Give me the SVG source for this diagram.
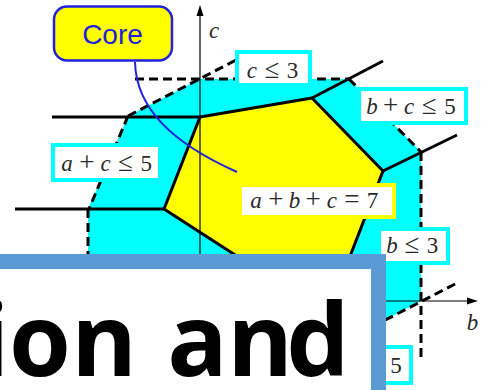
<svg xmlns="http://www.w3.org/2000/svg" width="488" height="390" viewBox="0 0 488 390">
<style>
.dash{fill:none;stroke:#000;stroke-width:3;stroke-dasharray:9 5}
.solid{fill:none;stroke:#000;stroke-width:3;stroke-linejoin:round}
.axis{fill:none;stroke:#000;stroke-width:1.2}
.lbl{fill:#fff;stroke:#00ffff;stroke-width:4}
.m{font-family:"Liberation Serif","DejaVu Serif",serif;font-size:23px;fill:#2a2a2a;text-anchor:middle}
.i{font-style:italic}
.o{font-size:27px}
.big{font-family:"Open Sans","Noto Sans",sans-serif;font-weight:bold;font-size:100px;fill:#000;text-anchor:middle}
</style>
<rect width="488" height="390" fill="#fff"/>
<g id="regions">
<polygon id="cyan-region" points="88,400 88,209 128,116 200,79 349,79 421,152 421,301 385,320 300,400" fill="#00ffff"/>
<polygon id="core-region" points="200,117 312,98 383,171 337,290 280,284 164,209" fill="#ffff00"/>
</g>
<g id="connectors">
<line class="dash" x1="135" y1="79" x2="349" y2="79"/>
<line class="dash" x1="128" y1="116" x2="240" y2="58"/>
<line class="dash" x1="128" y1="116" x2="89" y2="209"/>
<line class="dash" x1="88" y1="209" x2="88" y2="300"/>
<line class="dash" x1="349" y1="79" x2="421" y2="152"/>
<line class="dash" x1="421" y1="152" x2="421" y2="358"/>
<line class="dash" x1="360" y1="333" x2="457" y2="283"/>
<polygon class="solid" points="200,117 312,98 383,171 337,290 280,284 164,209"/>
<line class="solid" x1="200" y1="117" x2="52" y2="117"/>
<line class="solid" x1="164" y1="209" x2="15" y2="209"/>
<line class="solid" x1="312" y1="98" x2="383" y2="61"/>
<line class="solid" x1="383" y1="171" x2="457" y2="135"/>
<line class="axis" x1="200" y1="14" x2="200" y2="320"/>
<polygon points="200,5 196.5,16 203.5,16" fill="#000"/>
<line class="axis" x1="200" y1="301" x2="469" y2="301"/>
<polygon points="478,301 467,297.5 467,304.5" fill="#000"/>
<path d="M135,62 C136,108 172,143 237,172" fill="none" stroke="#2222dd" stroke-width="2"/>
</g>
<g id="axis-labels">
<text class="m i" x="214" y="38">c</text>
<text class="m i" x="472.5" y="330">b</text>
</g>
<g id="label-c3">
<rect class="lbl" x="237" y="52" width="73" height="33"/>
<text class="m" y="78"><tspan class="i" x="251.9">c</tspan><tspan class="o" x="271.9">≤</tspan><tspan x="292.6">3</tspan></text>
</g>
<g id="label-bc5">
<rect class="lbl" x="359" y="89" width="107" height="34"/>
<text class="m" y="114"><tspan class="i" x="371.9">b</tspan><tspan class="o" x="390.5">+</tspan><tspan class="i" x="409.2">c</tspan><tspan class="o" x="429.2">≤</tspan><tspan x="449.9">5</tspan></text>
</g>
<g id="label-ac5">
<rect class="lbl" x="53" y="145" width="107" height="35"/>
<text class="m" y="170.5"><tspan class="i" x="67">a</tspan><tspan class="o" x="86.8">+</tspan><tspan class="i" x="105.5">c</tspan><tspan class="o" x="125.4">≤</tspan><tspan x="146.2">5</tspan></text>
</g>
<g id="label-abc7">
<rect x="240" y="185" width="154" height="32" fill="#fff" stroke="#ffff00" stroke-width="4"/>
<text class="m" y="207.5"><tspan class="i" x="256">a</tspan><tspan class="o" x="275.8">+</tspan><tspan class="i" x="294.4">b</tspan><tspan class="o" x="313.1">+</tspan><tspan class="i" x="331.8">c</tspan><tspan class="o" x="351.8">=</tspan><tspan x="372.5">7</tspan></text>
</g>
<g id="label-b3">
<rect class="lbl" x="379" y="229" width="69" height="34"/>
<text class="m" y="252.5"><tspan class="i" x="391.9">b</tspan><tspan class="o" x="411.8">≤</tspan><tspan x="432.5">3</tspan></text>
</g>
<g id="label-5">
<rect class="lbl" x="300" y="347" width="111" height="36"/>
<text class="m" x="396" y="372.5">5</text>
</g>
<g id="core-callout">
<rect x="54" y="6.5" width="118" height="54" rx="13" fill="#ffff00" stroke="#2222dd" stroke-width="2.5"/>
<text x="112.5" y="44" font-family="Liberation Sans, Arial, sans-serif" font-size="28" fill="#2222dd" text-anchor="middle">Core</text>
</g>
<g id="overlay">
<rect x="-20" y="261.5" width="398.5" height="200" fill="#fff" stroke="#5b9bd5" stroke-width="15"/>
<text class="big" x="-6 40 104 150 197.5 260 318" y="376">ion and</text>
</g>
</svg>
